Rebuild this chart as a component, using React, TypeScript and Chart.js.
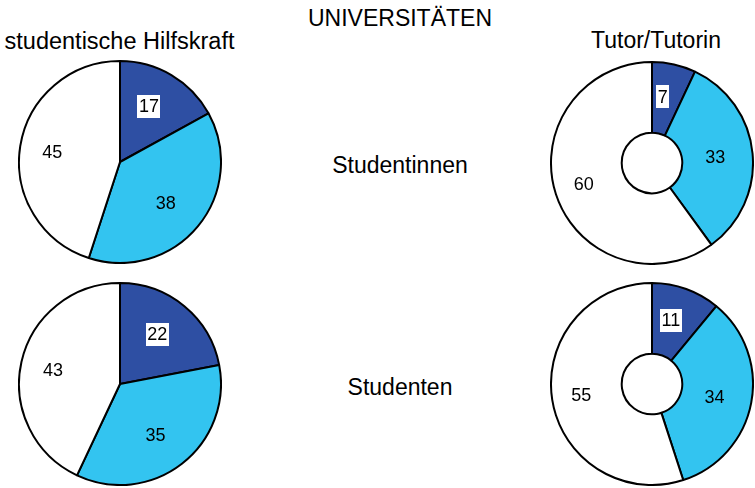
import React, { useEffect, useRef } from "react";
import { Chart, ArcElement, PieController, DoughnutController } from "chart.js";

Chart.register(ArcElement, PieController, DoughnutController);

// ---- data ----
const title = "UNIVERSITÄTEN";
const columnTitles = ["studentische Hilfskraft", "Tutor/Tutorin"];
const rowTitles = ["Studentinnen", "Studenten"];
const segments = ["Anteil 1", "Anteil 2", "Anteil 3"];

const hilfskraftStudentinnen = [17, 38, 45];
const tutorStudentinnen = [7, 33, 60];
const hilfskraftStudenten = [22, 35, 43];
const tutorStudenten = [11, 34, 55];

const colors = ["#2E4FA3", "#33C4F0", "#FFFFFF"];
const FONT = '"Liberation Sans", Arial, Helvetica, sans-serif';

const labelPlugin = {
  id: "sliceLabels",
  afterDatasetsDraw(chart: any) {
    const ctx = chart.ctx;
    const meta = chart.getDatasetMeta(0);
    const values = chart.data.datasets[0].data;
    ctx.save();
    ctx.font = `18px ${FONT}`;
    ctx.textAlign = "center";
    ctx.textBaseline = "middle";
    meta.data.forEach((arc: any, i: number) => {
      const p = arc.getProps(["x", "y", "startAngle", "endAngle", "outerRadius", "innerRadius"], true);
      const mid = (p.startAngle + p.endAngle) / 2;
      const d = p.outerRadius * (p.innerRadius > 0 ? 0.67 : 0.64);
      const x = p.x + Math.cos(mid) * d - 4;
      const y = p.y + Math.sin(mid) * d;
      const txt = String(values[i]);
      if (i === 0) {
        const w = ctx.measureText(txt).width + 3;
        const h = 23;
        ctx.fillStyle = "#FFFFFF";
        ctx.fillRect(Math.round(x - w / 2), Math.round(y - h / 2), Math.round(w), h);
      }
      ctx.fillStyle = "#000000";
      ctx.fillText(txt, x, y + 1);
    });
    ctx.restore();
  },
};

function PieCanvas({ data, cutout, left, top, size }: { data: number[]; cutout: string; left: number; top: number; size: number }) {
  const ref = useRef<HTMLCanvasElement | null>(null);
  useEffect(() => {
    if (!ref.current) return;
    const chart = new Chart(ref.current, {
      type: "doughnut",
      data: {
        labels: segments,
        datasets: [
          {
            data,
            backgroundColor: colors,
            borderColor: "#000000",
            borderWidth: 2,
          },
        ],
      },
      options: {
        responsive: false,
        animation: false,
        cutout,
        layout: { padding: 0 },
        events: [],
        plugins: { legend: { display: false }, tooltip: { enabled: false } },
      } as any,
      plugins: [labelPlugin],
    });
    return () => chart.destroy();
  }, [data, cutout]);
  return (
    <canvas
      ref={ref}
      width={size}
      height={size}
      style={{ position: "absolute", left, top, width: size, height: size }}
    />
  );
}

function Label({ text, cx, top, size }: { text: string; cx: number; top: number; size: number }) {
  return (
    <div
      style={{
        position: "absolute",
        left: cx - 200,
        width: 400,
        top,
        textAlign: "center",
        fontFamily: FONT,
        fontSize: size,
        lineHeight: 1,
        color: "#000",
        whiteSpace: "nowrap",
      }}
    >
      {text}
    </div>
  );
}

export default function App() {
  return (
    <div
      style={{
        position: "fixed",
        left: 0,
        top: 0,
        width: 755,
        height: 488,
        background: "#FFFFFF",
        overflow: "hidden",
      }}
    >
      <Label text={title} cx={400} top={7} size={23} />
      <Label text={columnTitles[0]} cx={119.5} top={29.5} size={23.5} />
      <Label text={columnTitles[1]} cx={656} top={29} size={23} />
      <Label text={rowTitles[0]} cx={400} top={153.5} size={23} />
      <Label text={rowTitles[1]} cx={400} top={375.5} size={23} />
      <PieCanvas data={hilfskraftStudentinnen} cutout="0%" left={18} top={60} size={204} />
      <PieCanvas data={tutorStudentinnen} cutout="30%" left={550} top={61} size={204} />
      <PieCanvas data={hilfskraftStudenten} cutout="0%" left={18} top={282} size={204} />
      <PieCanvas data={tutorStudenten} cutout="30%" left={550} top={282} size={204} />
    </div>
  );
}
